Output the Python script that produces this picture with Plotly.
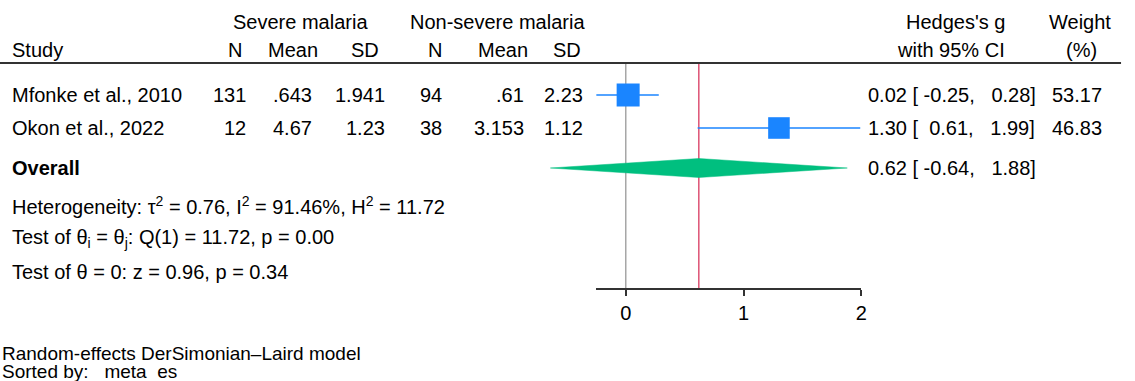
import plotly.graph_objects as go

# ---------------- data ----------------
studies = ["Mfonke et al., 2010", "Okon et al., 2022"]
sev_n = ["131", "12"]
sev_mean = [".643", "4.67"]
sev_sd = ["1.941", "1.23"]
non_n = ["94", "38"]
non_mean = [".61", "3.153"]
non_sd = ["2.23", "1.12"]
hedges_g = [0.02, 1.30]
ci_low = [-0.25, 0.61]
ci_high = [0.28, 1.99]
weights = [53.17, 46.83]
overall_g = 0.62
overall_low = -0.64
overall_high = 1.88
tick_vals = [0, 1, 2]
het_text = "Heterogeneity: τ<sup>2</sup> = 0.76, I<sup>2</sup> = 91.46%, H<sup>2</sup> = 11.72"
q_text = "Test of θ<sub>i</sub> = θ<sub>j</sub>: Q(1) = 11.72, p = 0.00"
z_text = "Test of θ = 0: z = 0.96, p = 0.34"
note1 = "Random-effects DerSimonian–Laird model"
note2 = "Sorted by:   meta  es"

# ---------------- layout constants ----------------
W, H = 1135, 381
FONT = "Liberation Sans, Arial, sans-serif"
FS = 20
PAD = 2
ax_left_px, ax_right_px = 599.5, 866.0
ax_min, ax_max = -0.25, 2.0
px_per_unit = (ax_right_px - ax_left_px) / (ax_max - ax_min)
zero_px = ax_left_px - ax_min * px_per_unit
x_range = [-zero_px / px_per_unit, (W - zero_px) / px_per_unit]

header_line_y = 63
axis_y = 289
row_y = [95, 128]
overall_y = 168
diamond_half = 9.5
max_sq = 23

BLUE = "#1A85FF"
GREEN = "#00BF7F"
RED = "#D8375F"
GRAY = "#999999"
DARK = "#333333"

fig = go.Figure()

# null line and overall line
fig.add_trace(go.Scatter(x=[0, 0], y=[header_line_y, axis_y], mode="lines",
                         line=dict(color=GRAY, width=1.3), hoverinfo="skip"))
fig.add_trace(go.Scatter(x=[overall_g, overall_g], y=[header_line_y, axis_y], mode="lines",
                         line=dict(color=RED, width=1.3), hoverinfo="skip"))

# study CIs and squares
for i in range(len(studies)):
    fig.add_trace(go.Scatter(x=[ci_low[i], ci_high[i]], y=[row_y[i], row_y[i]], mode="lines",
                             line=dict(color=BLUE, width=1.6), hoverinfo="skip"))
sizes = [max_sq * (w / max(weights)) ** 0.5 for w in weights]
fig.add_trace(go.Scatter(x=hedges_g, y=row_y, mode="markers", opacity=1,
                         marker=dict(symbol="square", size=sizes, color=BLUE, opacity=1,
                                     line=dict(width=0)),
                         hoverinfo="skip"))

# overall diamond
fig.add_trace(go.Scatter(
    x=[overall_low, overall_g, overall_high, overall_g, overall_low],
    y=[overall_y, overall_y - diamond_half, overall_y, overall_y + diamond_half, overall_y],
    mode="lines", fill="toself", fillcolor=GREEN, line=dict(color=GREEN, width=0.5),
    hoverinfo="skip"))

# dummy trace for the visible x axis
fig.add_trace(go.Scatter(x=[0], y=[axis_y], xaxis="x2", yaxis="y", mode="markers",
                         marker=dict(size=1, opacity=0), hoverinfo="skip"))

ann = []


def txt(x_px, y_px, text, anchor="right", bold=False, size=FS):
    if anchor == "right":
        x_px += PAD
    elif anchor == "left":
        x_px -= PAD
    ann.append(dict(x=x_px / W, y=y_px, xref="paper", yref="y", text=("<b>%s</b>" % text) if bold else text,
                    showarrow=False, xanchor=anchor, yanchor="middle",
                    font=dict(family=FONT, size=size, color="black")))


def nb(s):
    return s.replace(" ", "\u00a0")


# headers
txt(302, 22, "Severe malaria", "center")
txt(500, 22, "Non-severe malaria", "center")
txt(12, 50, "Study", "left")
for xp, t in [(243, "N"), (320, "Mean"), (381, "SD"), (444, "N"), (531, "Mean"), (584, "SD")]:
    txt(xp, 50, t)
txt(1010, 22, "Hedges's g")
txt(1010, 50, "with 95% CI")
txt(1117, 22, "Weight")
txt(1087, 50, "(%)", "center")

# rows
for i in range(len(studies)):
    y = row_y[i]
    txt(12, y, studies[i], "left")
    txt(247, y, sev_n[i])
    txt(314, y, sev_mean[i])
    txt(387, y, sev_sd[i])
    txt(444, y, non_n[i])
    txt(527, y, non_mean[i])
    txt(586, y, non_sd[i])
    txt(873, y, nb(f"{hedges_g[i]:.2f} [{ci_low[i]:6.2f}, {ci_high[i]:6.2f}]"), "left")
    txt(1108, y, f"{weights[i]:.2f}")

txt(12, overall_y, "Overall", "left", bold=True)
txt(873, overall_y, nb(f"{overall_g:.2f} [{overall_low:6.2f}, {overall_high:6.2f}]"), "left")

txt(12, 205, het_text, "left")
txt(12, 238, q_text, "left")
txt(12, 272, z_text, "left")
txt(2, 353, note1, "left", size=19)
txt(2, 371, nb(note2), "left", size=19)

shapes = [dict(type="line", xref="paper", yref="paper", x0=0, x1=1127 / W,
               y0=1 - header_line_y / H, y1=1 - header_line_y / H,
               line=dict(color=DARK, width=2))]

fig.update_layout(
    width=W, height=H, margin=dict(l=0, r=0, t=0, b=0), autosize=False,
    paper_bgcolor="white", plot_bgcolor="rgba(0,0,0,0)", showlegend=False, hovermode=False,
    annotations=ann, shapes=shapes,
    xaxis=dict(domain=[0, 1], range=x_range, visible=False, fixedrange=True),
    yaxis=dict(domain=[0, 1], range=[H, 0], visible=False, fixedrange=True),
    xaxis2=dict(domain=[ax_left_px / W, ax_right_px / W], range=[ax_min, ax_max], anchor="free",
                position=1 - axis_y / H, showline=True, linecolor=DARK, linewidth=1.5,
                ticks="outside", ticklen=6, tickwidth=1.5, tickcolor=DARK, tickvals=tick_vals,
                tickfont=dict(family=FONT, size=FS, color="black"), showgrid=False, zeroline=False,
                fixedrange=True),
)

fig.write_html("out.html", config={"displayModeBar": False},
               post_script="document.body.style.margin='0px';")
